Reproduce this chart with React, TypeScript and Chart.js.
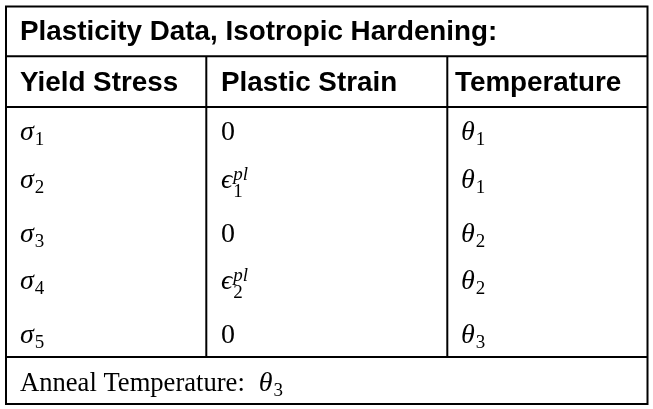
import React, { useEffect, useRef } from "react";
import { Chart, registerables } from "chart.js";

Chart.register(...registerables);

// ---- table content ----
const title = "Plasticity Data, Isotropic Hardening:";
const headers = ["Yield Stress", "Plastic Strain", "Temperature"];
const yieldStress = ["σ_1", "σ_2", "σ_3", "σ_4", "σ_5"];
const plasticStrain = ["0", "ϵ^{pl}_1", "0", "ϵ^{pl}_2", "0"];
const temperature = ["θ_1", "θ_1", "θ_2", "θ_2", "θ_3"];
const footerLabel = "Anneal Temperature:";
const footerValue = "θ_3";

// ---- layout (table units, mapped through the chart's linear scales) ----
const W = 653;
const H = 409;
const COL_LINES = [6, 206.3, 447.3, 647.5];
const ROW_LINES = { top: 6.5, title: 56.3, header: 107, footer: 357, bottom: 404 };
const TEXT_X = [20, 221, 455];
const MATH_X = [20, 221, 461];
const TITLE_BASE = 40;
const HEADER_BASE = 91;
const ROW_BASE = [140, 188, 242, 289, 343];
const FOOTER_BASE = 390.5;
const FOOTER_GAP = 14;

const SANS = "'Liberation Sans', Arial, sans-serif";
const SERIF = "'Liberation Serif', 'DejaVu Serif', serif";
const HEAD_SIZE = 27.8;
const MATH_SIZE = 28;
const SCRIPT_SIZE = 19;
const TEXT_SIZE = 26.6;

function parseMath(s: string) {
  let base = "";
  let sub = "";
  let sup = "";
  let i = 0;
  const readArg = () => {
    if (s[i] === "{") {
      const j = s.indexOf("}", i);
      const a = s.slice(i + 1, j);
      i = j + 1;
      return a;
    }
    return s[i++];
  };
  while (i < s.length) {
    const c = s[i];
    if (c === "_") {
      i++;
      sub = readArg();
    } else if (c === "^") {
      i++;
      sup = readArg();
    } else {
      base += c;
      i++;
    }
  }
  return { base, sub, sup };
}

const isNum = (t: string) => /^[0-9.]+$/.test(t);

function drawMath(ctx: CanvasRenderingContext2D, s: string, x: number, y: number) {
  const { base, sub, sup } = parseMath(s);
  ctx.font = `${isNum(base) ? "" : "italic "}${MATH_SIZE}px ${SERIF}`;
  ctx.fillText(base, x, y);
  const w = ctx.measureText(base).width;
  const sx = x + w + 1;
  if (sup) {
    ctx.font = `${isNum(sup) ? "" : "italic "}${SCRIPT_SIZE}px ${SERIF}`;
    ctx.fillText(sup, sx, y - (sub ? 8 : 10));
  }
  if (sub) {
    ctx.font = `${isNum(sub) ? "" : "italic "}${SCRIPT_SIZE}px ${SERIF}`;
    ctx.fillText(sub, sx, y + (sup ? 9 : 5));
  }
}

const tablePlugin = {
  id: "tableDraw",
  afterDraw(chart: any) {
    const { ctx, scales } = chart;
    const px = (v: number) => scales.x.getPixelForValue(v);
    const py = (v: number) => scales.y.getPixelForValue(v);
    ctx.save();
    ctx.strokeStyle = "#000";
    ctx.lineWidth = 2;
    const line = (x1: number, y1: number, x2: number, y2: number) => {
      ctx.beginPath();
      ctx.moveTo(px(x1), py(y1));
      ctx.lineTo(px(x2), py(y2));
      ctx.stroke();
    };
    ctx.strokeRect(
      px(COL_LINES[0]),
      py(ROW_LINES.top),
      px(COL_LINES[3]) - px(COL_LINES[0]),
      py(ROW_LINES.bottom) - py(ROW_LINES.top)
    );
    line(COL_LINES[0], ROW_LINES.title, COL_LINES[3], ROW_LINES.title);
    line(COL_LINES[0], ROW_LINES.header, COL_LINES[3], ROW_LINES.header);
    line(COL_LINES[0], ROW_LINES.footer, COL_LINES[3], ROW_LINES.footer);
    line(COL_LINES[1], ROW_LINES.title, COL_LINES[1], ROW_LINES.footer);
    line(COL_LINES[2], ROW_LINES.title, COL_LINES[2], ROW_LINES.footer);

    ctx.fillStyle = "#000";
    ctx.textBaseline = "alphabetic";
    ctx.textAlign = "left";
    ctx.font = `bold ${HEAD_SIZE}px ${SANS}`;
    ctx.fillText(title, px(TEXT_X[0]), py(TITLE_BASE));
    headers.forEach((h, c) => ctx.fillText(h, px(TEXT_X[c]), py(HEADER_BASE)));

    const cols = [yieldStress, plasticStrain, temperature];
    cols.forEach((col, c) =>
      col.forEach((v, r) => drawMath(ctx, v, px(MATH_X[c]), py(ROW_BASE[r])))
    );

    ctx.font = `${TEXT_SIZE}px ${SERIF}`;
    ctx.fillText(footerLabel, px(MATH_X[0]), py(FOOTER_BASE));
    const fw = ctx.measureText(footerLabel).width;
    drawMath(ctx, footerValue, px(MATH_X[0]) + fw + FOOTER_GAP, py(FOOTER_BASE));
    ctx.restore();
  },
};

export default function App() {
  const ref = useRef<HTMLCanvasElement>(null);
  useEffect(() => {
    if (!ref.current) return;
    const points = yieldStress.map((_, r) => ({ x: MATH_X[0], y: ROW_BASE[r] }));
    const chart = new Chart(ref.current, {
      type: "scatter",
      data: { datasets: [{ data: points, pointRadius: 0, showLine: false }] },
      options: {
        animation: false,
        responsive: false,
        devicePixelRatio: 1,
        layout: { padding: 0 },
        plugins: { legend: { display: false }, tooltip: { enabled: false } },
        scales: {
          x: { type: "linear", min: 0, max: W, display: false },
          y: { type: "linear", min: 0, max: H, reverse: true, display: false },
        },
      },
      plugins: [tablePlugin],
    });
    return () => chart.destroy();
  }, []);
  return (
    <div style={{ position: "fixed", left: 0, top: 0, width: W, height: H, background: "#fff" }}>
      <canvas ref={ref} width={W} height={H} style={{ display: "block" }} />
    </div>
  );
}
